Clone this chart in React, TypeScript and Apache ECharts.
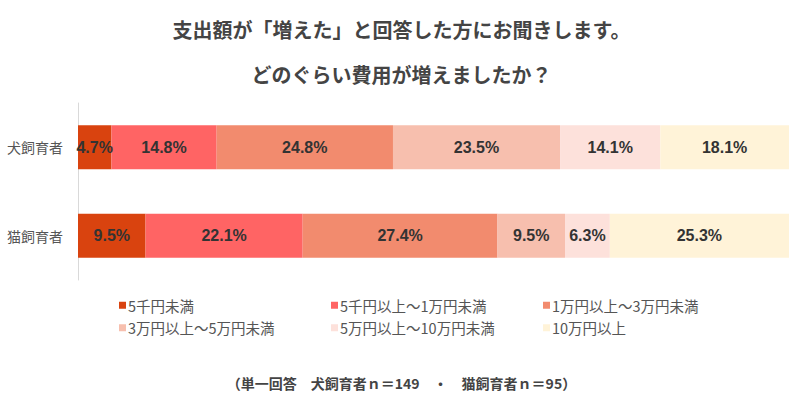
import React, { useEffect, useRef } from "react";
import * as echarts from "echarts";

const categories = ["犬飼育者", "猫飼育者"];
const seriesNames = [
  "5千円未満",
  "5千円以上～1万円未満",
  "1万円以上～3万円未満",
  "3万円以上～5万円未満",
  "5万円以上～10万円未満",
  "10万円以上",
];
const dogValues = [4.7, 14.8, 24.8, 23.5, 14.1, 18.1];
const catValues = [9.5, 22.1, 27.4, 9.5, 6.3, 25.3];
const colors = ["#D9430F", "#FF6464", "#F28B6E", "#F7BFAE", "#FDE1DB", "#FFF3D8"];
const titleLines = ["支出額が「増えた」と回答した方にお聞きします。", "どのぐらい費用が増えましたか？"];
const footer = "（単一回答　犬飼育者ｎ＝149　・　猫飼育者ｎ＝95）";

const JP = '"Noto Sans CJK JP", "Noto Sans", sans-serif';
const NUM = '"Liberation Sans", Arial, sans-serif';

export default function App() {
  const ref = useRef<HTMLDivElement>(null);
  useEffect(() => {
    if (!ref.current) return;
    const chart = echarts.init(ref.current, undefined, { renderer: "svg" });
    const legendCols = [
      [seriesNames[0], seriesNames[3]],
      [seriesNames[1], seriesNames[4]],
      [seriesNames[2], seriesNames[5]],
    ];
    const legendLefts = [114, 326, 538];
    chart.setOption({
      animation: false,
      backgroundColor: "#ffffff",
      title: [
        {
          text: titleLines[0],
          left: "center",
          top: 14,
          textStyle: { fontFamily: JP, fontSize: 20, fontWeight: "bold", color: "#444" },
        },
        {
          text: titleLines[1],
          left: "center",
          top: 59,
          textStyle: { fontFamily: JP, fontSize: 20, fontWeight: "bold", color: "#444" },
        },
        {
          text: footer,
          left: "center",
          top: 371,
          textStyle: { fontFamily: JP, fontSize: 14, fontWeight: "bold", color: "#444" },
        },
      ],
      legend: legendCols.map((d, i) => ({
        data: d,
        orient: "vertical",
        left: legendLefts[i],
        top: 293,
        itemWidth: 7,
        itemHeight: 7,
        itemGap: 8,
        icon: "rect",
        selectedMode: false,
        textStyle: { fontFamily: JP, fontSize: 14.5, color: "#555", padding: [0, 0, 0, -3] },
      })),
      grid: { left: 78, right: 14, top: 103, bottom: 119, containLabel: false },
      xAxis: { type: "value", min: 0, max: 100, show: false },
      yAxis: {
        type: "category",
        data: categories,
        inverse: true,
        axisLine: { show: true, lineStyle: { color: "#d9d9d9", width: 1 } },
        axisTick: { show: false },
        axisLabel: { fontFamily: JP, fontSize: 14, color: "#555", margin: 15 },
      },
      series: seriesNames.map((name, i) => ({
        name,
        type: "bar",
        stack: "total",
        barWidth: 44,
        itemStyle: { color: colors[i] },
        label: {
          show: true,
          position: "inside",
          formatter: (p: any) => `${p.value.toFixed(1)}%`,
          fontFamily: NUM,
          fontSize: 16,
          fontWeight: "bold",
          color: "#333",
        },
        data: [dogValues[i], catValues[i]],
      })),
    });
    return () => chart.dispose();
  }, []);
  return <div ref={ref} style={{ width: 803, height: 399, position: "absolute", left: 0, top: 0 }} />;
}
